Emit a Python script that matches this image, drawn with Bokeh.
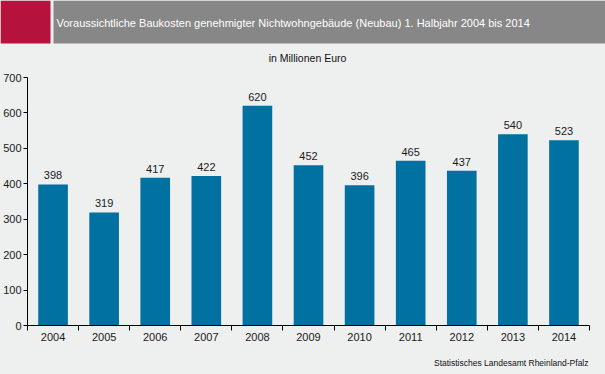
from bokeh.plotting import figure
from bokeh.models import Range1d, FixedTicker
from bokeh.layouts import column
from bokeh.core.properties import value
from bokeh.embed import file_html
from bokeh.resources import INLINE

years = ["2004", "2005", "2006", "2007", "2008", "2009", "2010", "2011", "2012", "2013", "2014"]
costs = [398, 319, 417, 422, 620, 452, 396, 465, 437, 540, 523]
y_ticks = [0, 100, 200, 300, 400, 500, 600, 700]
title_text = "Voraussichtliche Baukosten genehmigter Nichtwohngebäude (Neubau) 1. Halbjahr 2004 bis 2014"
subtitle_text = "in Millionen Euro"
source_text = "Statistisches Landesamt Rheinland-Pfalz"

FONT = "Liberation Sans"
BG = "#eeefef"
BAR = "#0071a0"
RED = "#b5123e"
GREY = "#878787"

W = 605
HEAD_H = 66     # header strip + subtitle
MAIN_H = 284    # chart
FOOT_H = 374 - HEAD_H - MAIN_H


def plain_fig(height):
    f = figure(width=W, height=height, output_backend="svg", toolbar_location=None,
               title=None, x_range=Range1d(0, W), y_range=Range1d(height, 0),
               min_border=0, x_axis_type=None, y_axis_type=None)
    f.background_fill_color = BG
    f.border_fill_color = BG
    f.outline_line_color = None
    f.grid.visible = False
    return f


# ---- header strip ----
h = plain_fig(HEAD_H)
h.quad(left=[0], right=[50], top=[0], bottom=[43], color=RED, line_color=None)
h.quad(left=[53], right=[W], top=[0], bottom=[43], color=GREY, line_color=None)
h.text(x=[56], y=[22], text=[title_text], text_font=value(FONT), text_font_size="11px",
       text_color="white", text_align="left", text_baseline="middle")
h.text(x=[307], y=[57], text=[subtitle_text], text_font=value(FONT), text_font_size="10.5px",
       text_color="#111111", text_align="center", text_baseline="middle")

# ---- main chart ----
centers = [i + 0.5 for i in range(len(years))]
bounds = [i for i in range(len(years) + 1)]

p = figure(width=W, height=MAIN_H, output_backend="svg", toolbar_location=None,
           title=None, x_range=Range1d(0, len(years)), y_range=Range1d(0, 700),
           min_border_left=27, min_border_right=16, min_border_top=11, min_border_bottom=25)
p.background_fill_color = BG
p.border_fill_color = BG
p.outline_line_color = None
p.grid.visible = False

p.vbar(x=centers, top=costs, width=0.58, color=BAR, line_color=None)
p.text(x=centers, y=costs, text=[str(v) for v in costs], text_align="center",
       text_baseline="bottom", y_offset=-5, text_font=value(FONT),
       text_font_size="11px", text_color="#1a1a1a")

xa = p.xaxis[0]
xa.ticker = FixedTicker(ticks=centers, minor_ticks=bounds)
xa.major_label_overrides = {c: y for c, y in zip(centers, years)}
xa.major_tick_in = 0
xa.major_tick_out = 0
xa.minor_tick_in = 0
xa.minor_tick_out = 5
xa.minor_tick_line_color = "black"
xa.axis_line_color = "black"
xa.major_label_standoff = 2
xa.major_label_text_font = FONT
xa.major_label_text_font_size = "11px"
xa.major_label_text_color = "#1a1a1a"

ya = p.yaxis[0]
ya.ticker = FixedTicker(ticks=y_ticks)
ya.major_tick_in = 0
ya.major_tick_out = 4
ya.minor_tick_line_color = None
ya.axis_line_color = "black"
ya.major_tick_line_color = "black"
ya.major_label_standoff = 2
ya.major_label_text_font = FONT
ya.major_label_text_font_size = "11px"
ya.major_label_text_color = "#1a1a1a"

# ---- footer ----
f = plain_fig(FOOT_H)
f.text(x=[588], y=[12], text=[source_text], text_font=value(FONT), text_font_size="8.5px",
       text_color="#111111", text_align="right", text_baseline="middle")

for fig in (h, p, f):
    try:
        fig.frame_align = False
    except Exception:
        pass

layout = column(h, p, f, spacing=0)
layout.background = BG
open("out.html", "w").write(file_html(layout, INLINE))
